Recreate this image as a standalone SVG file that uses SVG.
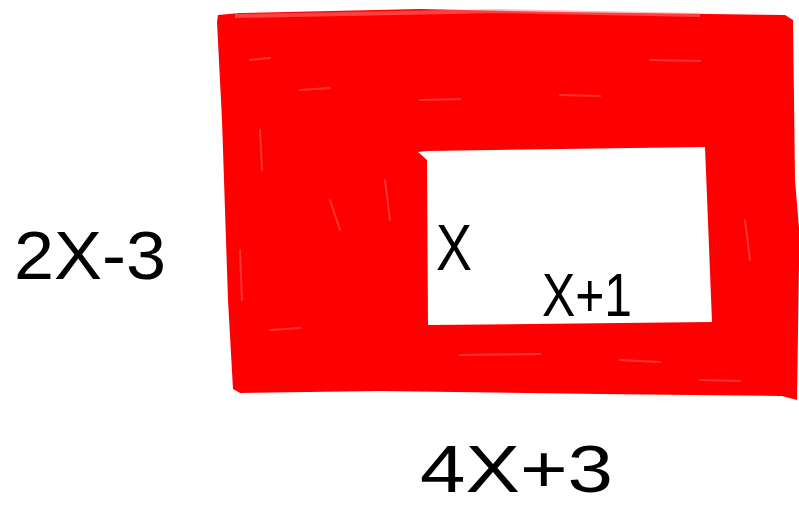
<svg xmlns="http://www.w3.org/2000/svg" width="799" height="508" viewBox="0 0 799 508">
<style>
.lbl{font-family:"Liberation Sans","DejaVu Sans",sans-serif;fill:#000;}
.tex{stroke:#fff;stroke-opacity:0.2;stroke-width:2;fill:none;stroke-linecap:round;}
</style>
<rect width="799" height="508" fill="#fff"/>
<g id="outer">
<path d="M218,15 L240,13 L420,9 L560,12 L785,15 L793,20 L795,180 L799,228 L799,262 L797,400 L782,396 L600,394 L380,391 L240,393 L233,389 L228,300 L222,120 L217,22 Z" fill="#ff0000"/>
<path d="M235,16 L500,11 L700,15" stroke="#ff8080" stroke-width="4" fill="none" opacity="0.5"/>
<path class="tex" d="M250,60 L270,58 M300,90 L330,88 M420,100 L460,99 M560,95 L600,96 M650,60 L700,61 M260,130 L262,170 M330,200 L340,230 M270,330 L300,328 M460,355 L540,354 M620,360 L660,362 M745,220 L750,260 M240,250 L242,300 M385,180 L390,220 M700,380 L740,381"/>
</g>
<g id="inner">
<path d="M418,152 L427,151 L705,147 L712,322 L428,325 L427,160 Z" fill="#fff"/>
</g>
<g id="labels">
<text class="lbl" x="14" y="279" font-size="68" textLength="152" lengthAdjust="spacingAndGlyphs">2X-3</text>
<text class="lbl" x="436" y="270" font-size="64" textLength="36" lengthAdjust="spacingAndGlyphs">X</text>
<text class="lbl" x="542" y="316" font-size="62" textLength="90" lengthAdjust="spacingAndGlyphs">X+1</text>
<text class="lbl" x="420" y="492" font-size="66" textLength="193" lengthAdjust="spacingAndGlyphs">4X+3</text>
</g>
</svg>
